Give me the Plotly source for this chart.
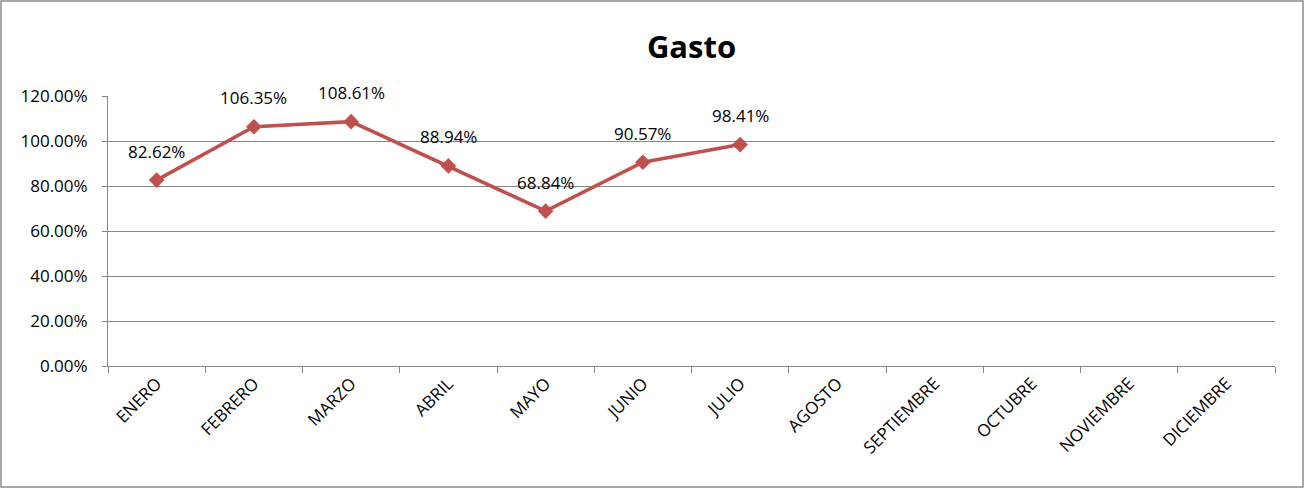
import plotly.graph_objects as go

months = ["ENERO", "FEBRERO", "MARZO", "ABRIL", "MAYO", "JUNIO", "JULIO",
          "AGOSTO", "SEPTIEMBRE", "OCTUBRE", "NOVIEMBRE", "DICIEMBRE"]
gasto = [0.8262, 1.0635, 1.0861, 0.8894, 0.6884, 0.9057, 0.9841,
         None, None, None, None, None]
y_ticks = [0, 0.2, 0.4, 0.6, 0.8, 1.0, 1.2]

LINE = "#C0504D"
GRID = "#868686"
FONT = "Open Sans"
FS = 17

fig = go.Figure()
fig.add_trace(go.Scatter(
    x=months, y=gasto, mode="lines+markers",
    line=dict(color=LINE, width=3.5),
    marker=dict(symbol="diamond", size=12, color=LINE),
    connectgaps=False, hoverinfo="skip", showlegend=False,
))

for m, v in zip(months, gasto):
    if v is not None:
        fig.add_annotation(x=m, y=v, text=f"{v*100:.2f}%", showarrow=False,
                           yshift=29, font=dict(family=FONT, size=FS, color="black"))

L, R, T, B = 108, 30, 96, 123
W, H = 1305, 489
pw, ph = W - L - R, H - T - B
fig.add_shape(type="rect", xref="paper", yref="paper",
              x0=(1 - L) / pw, x1=(W - 2 - L) / pw,
              y0=-(H - 2 - (H - B)) / ph, y1=((H - B) - 1) / ph,
              line=dict(color="#8c8c8c", width=1.5), layer="below")

fig.update_layout(
    width=W, height=H,
    margin=dict(l=L, r=R, t=T, b=B),
    paper_bgcolor="white", plot_bgcolor="white",
    title=dict(text="<b>Gasto</b>", x=0.5, xref="paper", xanchor="center",
               y=1 - 47 / H, yanchor="middle",
               font=dict(family=FONT, size=31, color="black")),
    font=dict(family=FONT, size=FS, color="black"),
    xaxis=dict(
        type="category", categoryorder="array", categoryarray=months,
        range=[-0.5, 11.5], tickson="boundaries", ticks="outside", ticklen=6,
        tickcolor=GRID, showline=True, linecolor=GRID, linewidth=1,
        showgrid=False, tickangle=-45, zeroline=False,
        tickfont=dict(family=FONT, size=FS, color="black"),
    ),
    yaxis=dict(
        range=[0, 1.2], tickvals=y_ticks, tickformat=".2%",
        ticks="outside", ticklen=5, tickcolor=GRID,
        showline=True, linecolor=GRID, linewidth=1,
        showgrid=True, gridcolor=GRID, gridwidth=1, zeroline=False,
        ticklabelstandoff=11,
        tickfont=dict(family=FONT, size=FS, color="black"),
    ),
)

fig.write_html("out.html", config={"displayModeBar": False},
               post_script="document.body.style.margin='0';document.body.style.overflow='hidden';")
